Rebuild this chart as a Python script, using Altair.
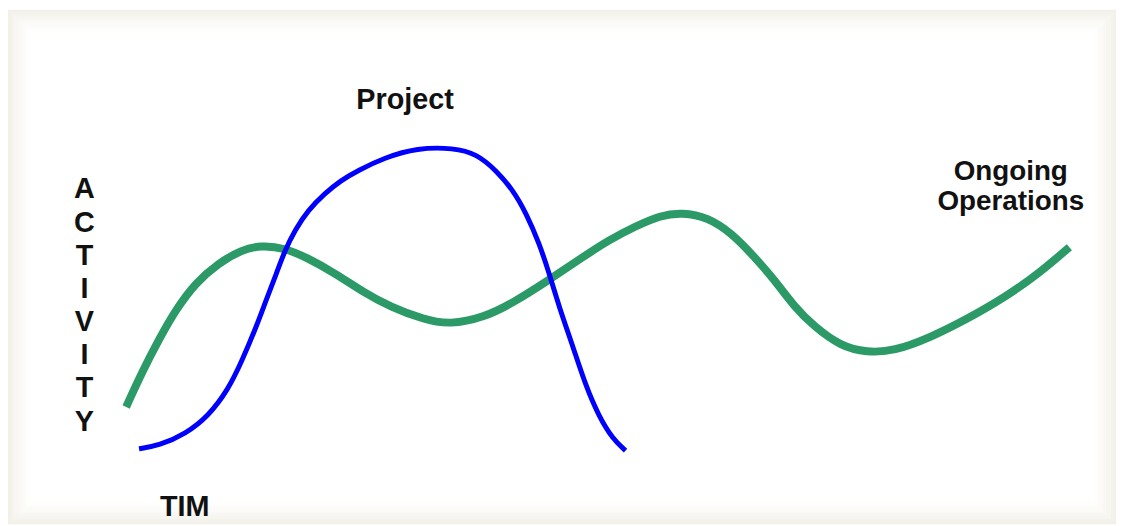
import altair as alt
import pandas as pd

# Project curve (blue) (x right, y down in picture units)
blue_x = [140, 160, 187, 210, 230, 243, 257, 267, 277, 287, 297, 310, 327, 343, 360,
          387, 420, 457, 480, 500, 517, 530, 543, 553, 563, 577, 590, 603, 617, 630]
blue_y = [450, 447, 435, 417, 390, 363, 330, 303, 277, 250, 230, 210, 193, 180, 170,
          157, 147, 147, 153, 170, 190, 213, 243, 273, 307, 347, 387, 417, 440, 452]

# Ongoing operations curve (green)
green_x = [127, 143, 160, 177, 197, 220, 243, 263, 287, 310, 337, 367, 393, 427, 453,
           487, 517, 553, 587, 613, 640, 665, 687, 713, 737, 760, 780, 800, 820, 847,
           873, 900, 937, 973, 1013, 1047, 1077]
green_y = [408, 373, 340, 310, 283, 263, 250, 245, 248, 258, 273, 293, 307, 320, 325,
           318, 303, 280, 257, 240, 226, 215, 212, 217, 233, 257, 280, 307, 327, 347,
           353, 352, 338, 320, 297, 273, 247]

blue_df = pd.DataFrame({"t": blue_x, "a": blue_y})
green_df = pd.DataFrame({"t": green_x, "a": green_y})
one = pd.DataFrame({"k": [0]})

W, H = 1116, 518
xs = alt.Scale(domain=[8, 1124], nice=False, zero=False)
ys = alt.Scale(domain=[8, 526], reverse=True, nice=False, zero=False)

FONT = "Liberation Sans"
FS = 29

# soft beige frame, drawn as concentric rings of fading opacity
rings = []
N_RING, RW = 10, 2.5
for i in range(N_RING):
    d = RW / 2 + i * RW
    rings.append(
        alt.Chart(one).mark_rect(
            filled=False, stroke="#e6e2d1", strokeWidth=RW,
            strokeOpacity=0.5 * (1 - i / N_RING) ** 1.5
        ).encode(
            x=alt.value(d), x2=alt.value(W - d),
            y=alt.value(d), y2=alt.value(H - d),
        )
    )

green = alt.Chart(green_df).mark_line(
    color="#2b9a67", strokeWidth=8, interpolate="basis", strokeCap="butt"
).encode(
    x=alt.X("t:Q", scale=xs, axis=None),
    y=alt.Y("a:Q", scale=ys, axis=None),
    order="t:Q",
)

blue = alt.Chart(blue_df).mark_line(
    color="#0000ff", strokeWidth=5, interpolate="basis", strokeCap="butt"
).encode(
    x=alt.X("t:Q", scale=xs, axis=None),
    y=alt.Y("a:Q", scale=ys, axis=None),
    order="t:Q",
)


def label(text, x, y, lh=28, fs=FS):
    return alt.Chart(one).mark_text(
        font=FONT, fontSize=fs, fontWeight="bold", color="#111111",
        align="center", baseline="alphabetic", lineHeight=lh, text=text
    ).encode(
        x=alt.X("px:Q", scale=xs, axis=None),
        y=alt.Y("py:Q", scale=ys, axis=None),
    ).transform_calculate(px=str(x), py=str(y))


t_project = label("Project", 408, 108)
t_tim = label("TIM", 186, 518)
t_ongoing = label(["Ongoing", "Operations"], 1018, 179, 31, 28)
t_activity = label(list("ACTIVITY"), 85, 198, 33.4)

chart = alt.layer(
    *rings, green, blue,
    t_project, t_tim, t_ongoing, t_activity
).properties(
    width=W, height=H, padding=0, autosize=alt.AutoSizeParams(type="none"),
    background="#ffffff"
).configure_view(stroke=None)

chart.save("out.html", embed_options={"renderer": "svg", "actions": False})
